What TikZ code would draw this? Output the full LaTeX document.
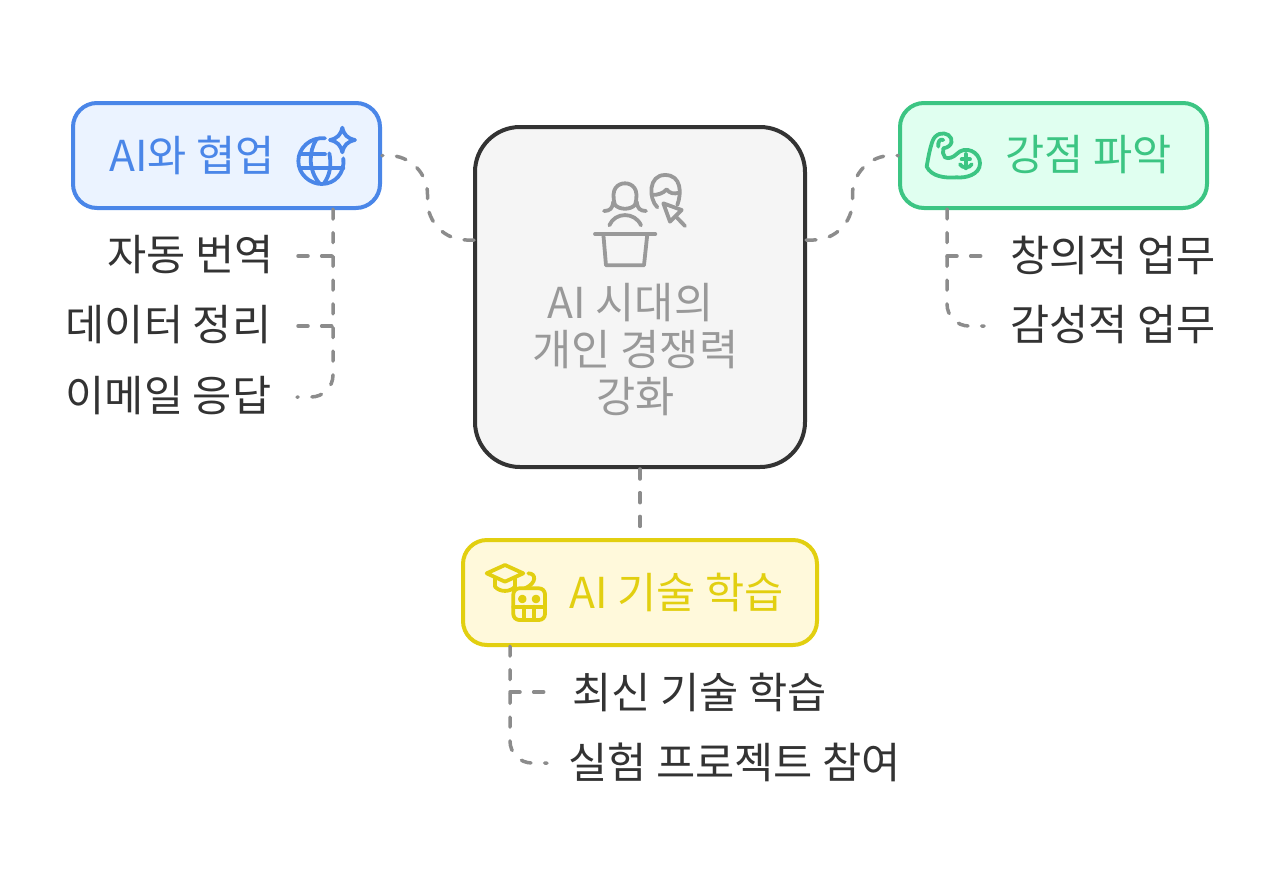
\documentclass[tikz,border=0pt]{standalone}
\usepackage{fontspec}
\setmainfont{Noto Sans CJK KR}
\definecolor{aiBlue}{HTML}{4A86E8}
\definecolor{aiBlueFill}{HTML}{EBF3FF}
\definecolor{strongGreen}{HTML}{3CC583}
\definecolor{strongGreenFill}{HTML}{E0FFF0}
\definecolor{learnYellow}{HTML}{E2CF10}
\definecolor{learnYellowFill}{HTML}{FFF9DB}
\definecolor{hubGray}{HTML}{999999}
\definecolor{hubFill}{HTML}{F5F5F5}
\definecolor{inkGray}{HTML}{333333}
\definecolor{linkGray}{HTML}{8C8C8C}
\tikzset{
  topicbox/.style={draw,line width=4pt,rounded corners=24pt,minimum height=105pt,inner sep=0pt},
  leaftext/.style={text=inkGray,font=\fontsize{42.6}{47}\selectfont,inner sep=0pt},
  topictext/.style={font=\fontsize{42.6}{47}\selectfont,inner sep=0pt},
  link/.style={linkGray,line width=3.5pt,line cap=round,dash pattern=on 10pt off 13.7pt,rounded corners=#1},
  link/.default=22pt,
  glyph/.style={line width=3.8pt,line cap=round,line join=round}
}
\begin{document}
\begin{tikzpicture}[x=1pt,y=-1pt]
  \useasboundingbox (0,0) rectangle (1280,884);

  % Hub
  \node[draw=inkGray,fill=hubFill,line width=4pt,rounded corners=45pt,minimum width=330pt,minimum height=340pt,inner sep=0pt] (hubBox) at (640,297) {};
  \node[text=hubGray,font=\fontsize{42.6}{47}\selectfont,align=center,inner sep=0pt] (hubText) at (635.5,350) {AI 시대의\hspace*{10pt}\\개인 경쟁력\\강화};

  % Topics
  \node[topicbox,draw=aiBlue,fill=aiBlueFill,minimum width=307pt] (aiBox) at (226.5,155.5) {};
  \node[topictext,text=aiBlue,anchor=west] (aiText) at (109,155) {AI와 협업};
  \node[topicbox,draw=strongGreen,fill=strongGreenFill,minimum width=307pt] (strongBox) at (1053.5,155.5) {};
  \node[topictext,text=strongGreen,anchor=east] (strongText) at (1172,155) {강점 파악};
  \node[topicbox,draw=learnYellow,fill=learnYellowFill,minimum width=354pt] (learnBox) at (640,592.5) {};
  \node[topictext,text=learnYellow,anchor=west] (learnText) at (569,592) {AI 기술 학습};

  % Leaves
  \node[leaftext,anchor=east] (autoText) at (274,255) {자동 번역};
  \node[leaftext,anchor=east] (dataText) at (271.5,325) {데이터 정리};
  \node[leaftext,anchor=east] (mailText) at (271.5,396) {이메일 응답};
  \node[leaftext,anchor=west] (creativeText) at (1010,255) {창의적 업무};
  \node[leaftext,anchor=west] (feelText) at (1010,325) {감성적 업무};
  \node[leaftext,anchor=west] (newText) at (572,692) {최신 기술 학습};
  \node[leaftext,anchor=west] (trialText) at (568,762) {실험 프로젝트 참여};

  % Hub links
  \coordinate (aiBend) at (427.5,197);
  \coordinate (hubLeft) at (474,240);
  \coordinate (strongBend) at (852.5,197);
  \coordinate (hubRight) at (806,240);
  \draw[link=39pt] (hubLeft) -- (hubLeft -| aiBend) -- (aiBend |- aiBox.east) -- (aiBox.east);
  \draw[link=39pt] (hubRight) -- (hubRight -| strongBend) -- (strongBend |- strongBox.west) -- (strongBox.west);
  \draw[link] (hubBox.south) -- (learnBox.north);

  % Leaf links
  \coordinate (aiStem) at (333,209);
  \coordinate (aiEnd) at (333,397);
  \coordinate (autoTip) at (298,256);
  \coordinate (dataTip) at (298,326);
  \coordinate (mailTip) at (297,397);
  \draw[link] (aiStem) -- (aiEnd) -- (mailTip);
  \draw[link] (autoTip) -- (autoTip -| aiStem);
  \draw[link] (dataTip) -- (dataTip -| aiStem);

  \coordinate (strongStem) at (947,209);
  \coordinate (strongEnd) at (947,326);
  \coordinate (creativeTip) at (984,256);
  \coordinate (feelTip) at (984,326);
  \draw[link] (strongStem) -- (strongEnd) -- (feelTip);
  \draw[link] (creativeTip -| strongStem) -- (creativeTip);

  \coordinate (learnStem) at (510,646);
  \coordinate (learnEnd) at (510,763);
  \coordinate (newTip) at (547,692);
  \coordinate (trialTip) at (547,763);
  \draw[link] (learnStem) -- (learnEnd) -- (trialTip);
  \draw[link] (newTip -| learnStem) -- (newTip);

  % Hub icon
  \begin{scope}[shift={(570,160)},scale=0.3333,glyph,draw=hubGray]
    \draw (75,222) -- (256,222);
    \draw (100,222) -- (108,316) -- (222,316) -- (232,222);
    \draw (135,135) .. controls (120,85) and (145,70) .. (165,70) .. controls (185,70) and (210,85) .. (195,135) .. controls (180,150) and (150,150) .. (135,135);
    \draw (102,153) .. controls (120,153) and (128,145) .. (130,125);
    \draw (228,153) .. controls (210,153) and (202,145) .. (200,125);
    \draw (118,196) .. controls (135,155) and (195,155) .. (213,196);
    \draw (262,142) .. controls (235,115) and (235,45) .. (285,45) .. controls (335,45) and (335,100) .. (322,135);
    \draw (245,105) .. controls (265,105) and (280,100) .. (290,88) .. controls (298,100) and (312,103) .. (328,98);
    \draw (280,130) -- (335,150) -- (300,185) -- cycle;
    \draw (318,170) -- (345,198);
  \end{scope}

  % Globe icon
  \begin{scope}[shift={(290,115)},scale=0.3333,glyph,draw=aiBlue]
    \draw (105,70) .. controls (60,65) and (25,100) .. (25,138) .. controls (25,178) and (60,207) .. (95,207) .. controls (135,207) and (165,175) .. (160,130);
    \draw (80,72) .. controls (55,110) and (55,165) .. (88,205);
    \draw (118,115) .. controls (125,150) and (120,180) .. (102,205);
    \draw (33,118) -- (105,118);
    \draw (30,160) -- (160,160);
    \draw (157,38) .. controls (162,60) and (172,70) .. (195,75) .. controls (172,80) and (162,90) .. (157,112) .. controls (152,90) and (142,80) .. (120,75) .. controls (142,70) and (152,60) .. (157,38) -- cycle;
  \end{scope}

  % Muscle icon
  \begin{scope}[shift={(915,120)},scale=0.3333,glyph,draw=strongGreen]
    \draw (35,140) .. controls (40,110) and (45,85) .. (52,65) .. controls (60,40) and (85,35) .. (100,45) .. controls (115,55) and (115,80) .. (85,85) .. controls (82,95) and (84,105) .. (90,112) .. controls (100,118) and (115,112) .. (125,102) .. controls (150,75) and (195,95) .. (195,130) .. controls (195,165) and (150,175) .. (125,172) .. controls (90,175) and (50,170) .. (35,140) -- cycle;
    \draw (70,80) .. controls (68,65) and (75,55) .. (85,60);
    \draw (152,102) -- (152,145);
    \draw (140,118) -- (165,118);
    \draw (135,133) .. controls (140,145) and (165,145) .. (170,133);
  \end{scope}

  % Learning icon
  \begin{scope}[shift={(480,555)},scale=0.3333,glyph,draw=learnYellow]
    \draw (20,55) -- (75,30) -- (130,55) -- (75,80) -- cycle;
    \draw (45,70) -- (45,95) .. controls (60,112) and (90,112) .. (105,95) -- (105,70);
    \draw (145,55) .. controls (170,55) and (170,85) .. (135,100);
    \draw[rounded corners=6pt] (100,100) rectangle (195,195);
    \draw (100,155) -- (195,155);
    \draw (133,155) -- (133,195);
    \draw (163,155) -- (163,195);
    \draw (127,132) circle (7);
    \draw (168,132) circle (7);
  \end{scope}
\end{tikzpicture}
\end{document}
